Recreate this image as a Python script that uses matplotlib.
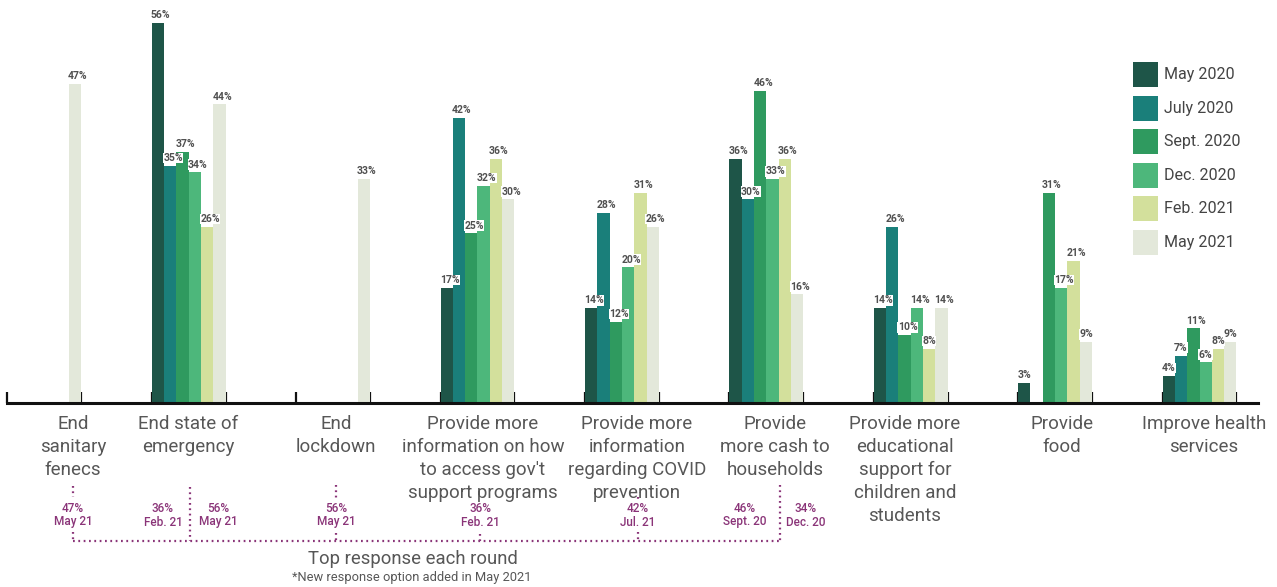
import numpy as np
import matplotlib
matplotlib.use("Agg")
import matplotlib.pyplot as plt
from matplotlib.patches import Rectangle
from matplotlib.lines import Line2D

plt.rcParams['font.family'] = ['Roboto', 'DejaVu Sans']

categories = [
    "End\nsanitary\nfenecs",
    "End state of\nemergency",
    "End\nlockdown",
    "Provide more\ninformation on how\nto access gov't\nsupport programs",
    "Provide more\ninformation\nregarding COVID\nprevention",
    "Provide\nmore cash to\nhouseholds",
    "Provide more\neducational\nsupport for\nchildren and\nstudents",
    "Provide\nfood",
    "Improve health\nservices",
]
series = ["May 2020", "July 2020", "Sept. 2020", "Dec. 2020", "Feb. 2021", "May 2021"]
may_2020 = [None, 56, None, 17, 14, 36, 14, 3, 4]
july_2020 = [None, 35, None, 42, 28, 30, 26, None, 7]
sept_2020 = [None, 37, None, 25, 12, 46, 10, 31, 11]
dec_2020 = [None, 34, None, 32, 20, 33, 14, 17, 6]
feb_2021 = [None, 26, None, 36, 31, 36, 8, 21, 8]
may_2021 = [47, 44, 33, 30, 26, 16, 14, 9, 9]
values = [may_2020, july_2020, sept_2020, dec_2020, feb_2021, may_2021]
colors = ["#1e5548", "#1a7f7a", "#2f9a5f", "#4db77b", "#d3e09c", "#e3e8da"]

top_resp_pct = ["47%", "36%", "56%", "56%", "36%", "42%", "46%", "34%"]
top_resp_round = ["May 21", "Feb. 21", "May 21", "May 21", "Feb. 21", "Jul. 21", "Sept. 20", "Dec. 20"]

W, H = 1277, 587
fig = plt.figure(figsize=(W / 100, H / 100), dpi=100)


def fx(px):
    return px / W


def fy(py):
    return 1 - py / H


ax = fig.add_axes([fx(7), fy(403), fx(1258) - fx(7), fy(9.5) - fy(403)])

n = len(series)
bw = 0.0853
x = np.arange(len(categories))
gray = "#575757"
for s in range(n):
    vals = np.array([np.nan if v is None else v for v in values[s]], dtype=float)
    pos = x + (s - (n - 1) / 2) * bw
    ax.bar(pos, vals, width=bw, color=colors[s], linewidth=0, zorder=2)
for s in range(n):
    pos = x + (s - (n - 1) / 2) * bw
    for p, v in zip(pos, values[s]):
        if v is None:
            continue
        ax.text(p - bw / 2 - 0.005, v + 0.4, f"{v}%", ha="left", va="bottom",
                fontsize=7.5, fontweight="bold", color="#505050", zorder=3,
                bbox=dict(facecolor="white", edgecolor="none", pad=0.2))

ax.set_xlim(-0.258, 8.405)
ax.set_ylim(0, 58)
for sp in ["top", "right", "left"]:
    ax.spines[sp].set_visible(False)
ax.spines["bottom"].set_linewidth(2.2)
ax.spines["bottom"].set_color("#111111")
edges = np.concatenate([x - 3 * bw, x + 3 * bw])
ax.set_xticks(edges)
ax.set_xticklabels([])
ax.tick_params(axis="x", direction="in", length=8, width=1.6, color="#111111")
ax.set_yticks([])

# category labels
label_px = [73, 188, 336, 483, 637, 775, 905, 1062, 1204]
for lab, px in zip(categories, label_px):
    fig.text(fx(px), fy(415), lab, ha="center", va="top", fontsize=13.5,
             color=gray, linespacing=1.36)

# legend
for i, (lab, col) in enumerate(zip(series, colors)):
    cy = 75 + i * 33.4
    fig.patches.append(Rectangle((fx(1133), fy(cy + 12.5)), fx(25), 25 / H,
                                 transform=fig.transFigure, facecolor=col,
                                 edgecolor="none"))
    fig.text(fx(1164), fy(cy), lab, ha="left", va="center", fontsize=11.5,
             color="#444444")

# top response annotations
purple = "#8a3478"
ann_px = [73, 163, 218, 336, 480, 638, 745, 806]
for pct, rnd, px in zip(top_resp_pct, top_resp_round, ann_px):
    fig.text(fx(px), fy(508), pct, ha="center", va="center", fontsize=8.5,
             color=purple, fontweight="medium")
    fig.text(fx(px), fy(522), rnd, ha="center", va="center", fontsize=8.5,
             color=purple, fontweight="medium")

dots = dict(color=purple, lw=1.6, linestyle=(0, (0.8, 1.6)),
            transform=fig.transFigure)
segs = [((73, 780), (541, 541)),
        ((73, 73), (486, 497)), ((73, 73), (532, 541)),
        ((190, 190), (487, 541)),
        ((336, 336), (485, 500)), ((336, 336), (533, 541)),
        ((480, 480), (534, 541)),
        ((638, 638), (497, 499)), ((638, 638), (532, 541)),
        ((780, 780), (485, 541))]
for xs, ys in segs:
    fig.lines.append(Line2D([fx(xs[0]), fx(xs[1])], [fy(ys[0]), fy(ys[1])], **dots))

fig.text(fx(413), fy(559), "Top response each round", ha="center", va="center",
         fontsize=13.3, color=gray)
fig.text(fx(412), fy(577), "*New response option added in May 2021", ha="center",
         va="center", fontsize=9.3, color=gray)

fig.savefig("out.png", dpi=100)
